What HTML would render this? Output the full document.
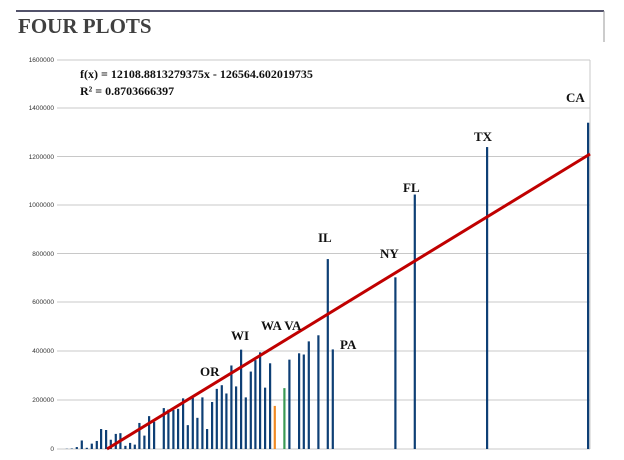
<!DOCTYPE html><html><head><style>body{margin:0;background:#fff}svg{display:block}</style></head><body>
<svg width="624" height="460" xmlns="http://www.w3.org/2000/svg">
<line x1="16" y1="11" x2="604" y2="11" stroke="#1a1a3a" stroke-width="1.5"/>
<line x1="604" y1="11" x2="604" y2="42" stroke="#999" stroke-width="1"/>
<text x="18" y="33" font-family="Liberation Serif, serif" font-weight="bold" font-size="21" fill="#404040">FOUR PLOTS</text>
<g stroke="#c8c8c8" stroke-width="1">
<line x1="57" y1="60" x2="590" y2="60"/><line x1="57" y1="108" x2="590" y2="108"/><line x1="57" y1="156.5" x2="590" y2="156.5"/><line x1="57" y1="205" x2="590" y2="205"/><line x1="57" y1="253.5" x2="590" y2="253.5"/><line x1="57" y1="302" x2="590" y2="302"/><line x1="57" y1="351" x2="590" y2="351"/><line x1="57" y1="400" x2="590" y2="400"/><line x1="57" y1="449" x2="590" y2="449"/><line x1="590" y1="60" x2="590" y2="449"/>
</g>
<g font-family="Liberation Sans, sans-serif" font-size="6.5" fill="#333" text-anchor="end">
<text x="54" y="62">1600000</text><text x="54" y="110">1400000</text><text x="54" y="159">1200000</text><text x="54" y="207">1000000</text><text x="54" y="256">800000</text><text x="54" y="304">600000</text><text x="54" y="353">400000</text><text x="54" y="402">200000</text><text x="54" y="451">0</text>
</g>
<g fill="#0e3f75">
<rect x="65.7" y="448.76" width="2.2" height="0.24"/>
<rect x="70.7" y="448.5" width="2.2" height="0.5"/>
<rect x="75.7" y="447.05" width="2.2" height="1.95"/>
<rect x="80.7" y="440.48" width="2.2" height="8.52"/>
<rect x="85.7" y="447.78" width="2.2" height="1.22"/>
<rect x="90.7" y="443.64" width="2.2" height="5.36"/>
<rect x="95.7" y="440.96" width="2.2" height="8.04"/>
<rect x="100" y="429.03" width="2.2" height="19.97"/>
<rect x="105" y="430.01" width="2.2" height="18.99"/>
<rect x="109.7" y="439.75" width="2.2" height="9.25"/>
<rect x="114.7" y="433.9" width="2.2" height="15.1"/>
<rect x="119.3" y="433.17" width="2.2" height="15.83"/>
<rect x="124.3" y="445.83" width="2.2" height="3.17"/>
<rect x="129" y="442.91" width="2.2" height="6.09"/>
<rect x="133.7" y="444.62" width="2.2" height="4.38"/>
<rect x="138.3" y="422.95" width="2.2" height="26.05"/>
<rect x="143.3" y="435.61" width="2.2" height="13.39"/>
<rect x="148" y="416.13" width="2.2" height="32.87"/>
<rect x="153" y="421.73" width="2.2" height="27.27"/>
<rect x="162.7" y="408.09" width="2.2" height="40.91"/>
<rect x="167.3" y="409.55" width="2.2" height="39.45"/>
<rect x="172.3" y="410.04" width="2.2" height="38.96"/>
<rect x="177" y="408.82" width="2.2" height="40.18"/>
<rect x="182" y="398.35" width="2.2" height="50.65"/>
<rect x="186.7" y="425.14" width="2.2" height="23.86"/>
<rect x="191.7" y="397.86" width="2.2" height="51.14"/>
<rect x="196.3" y="417.83" width="2.2" height="31.17"/>
<rect x="201.3" y="397.38" width="2.2" height="51.62"/>
<rect x="206" y="429.03" width="2.2" height="19.97"/>
<rect x="211" y="402" width="2.2" height="47"/>
<rect x="215.7" y="388.86" width="2.2" height="60.14"/>
<rect x="220.7" y="385.2" width="2.2" height="63.8"/>
<rect x="225.3" y="393.48" width="2.2" height="55.52"/>
<rect x="230.3" y="365.48" width="2.2" height="83.52"/>
<rect x="235" y="386.42" width="2.2" height="62.58"/>
<rect x="240" y="349.65" width="2.2" height="99.35"/>
<rect x="244.7" y="397.38" width="2.2" height="51.62"/>
<rect x="249.7" y="371.57" width="2.2" height="77.43"/>
<rect x="254.3" y="360.12" width="2.2" height="88.88"/>
<rect x="259" y="352.33" width="2.2" height="96.67"/>
<rect x="264" y="387.64" width="2.2" height="61.36"/>
<rect x="269" y="363.29" width="2.2" height="85.71"/>
<rect x="273.7" y="405.9" width="2.2" height="43.1" fill="#f08a24"/>
<rect x="283.3" y="388.12" width="2.2" height="60.88" fill="#3a9a55"/>
<rect x="288.3" y="359.64" width="2.2" height="89.36"/>
<rect x="298" y="353.3" width="2.2" height="95.7"/>
<rect x="302.7" y="354.52" width="2.2" height="94.48"/>
<rect x="307.7" y="341.37" width="2.2" height="107.63"/>
<rect x="317.3" y="335.29" width="2.2" height="113.71"/>
<rect x="326.7" y="259.07" width="2.2" height="189.93"/>
<rect x="331.7" y="349.41" width="2.2" height="99.59"/>
<rect x="394.3" y="277.33" width="2.2" height="171.67"/>
<rect x="413.7" y="194.54" width="2.2" height="254.46"/>
<rect x="486" y="147.06" width="2.2" height="301.94"/>
<rect x="587" y="122.71" width="2.2" height="326.29"/>
</g>
<line x1="107" y1="449" x2="590" y2="154" stroke="#c00000" stroke-width="3"/>
<g font-family="Liberation Serif, serif" font-weight="bold" font-size="13" fill="#111">
<text x="200" y="376">OR</text><text x="231" y="340">WI</text><text x="261" y="330">WA VA</text><text x="340" y="349">PA</text><text x="318" y="242">IL</text><text x="380" y="258">NY</text><text x="403" y="192">FL</text><text x="474" y="141">TX</text><text x="566" y="102">CA</text>
</g>
<g font-family="Liberation Serif, serif" font-weight="bold" font-size="12" fill="#111">
<text x="80" y="78">f(x) = 12108.8813279375x - 126564.602019735</text>
<text x="80" y="95">R² = 0.8703666397</text>
</g>
</svg>
</body></html>
